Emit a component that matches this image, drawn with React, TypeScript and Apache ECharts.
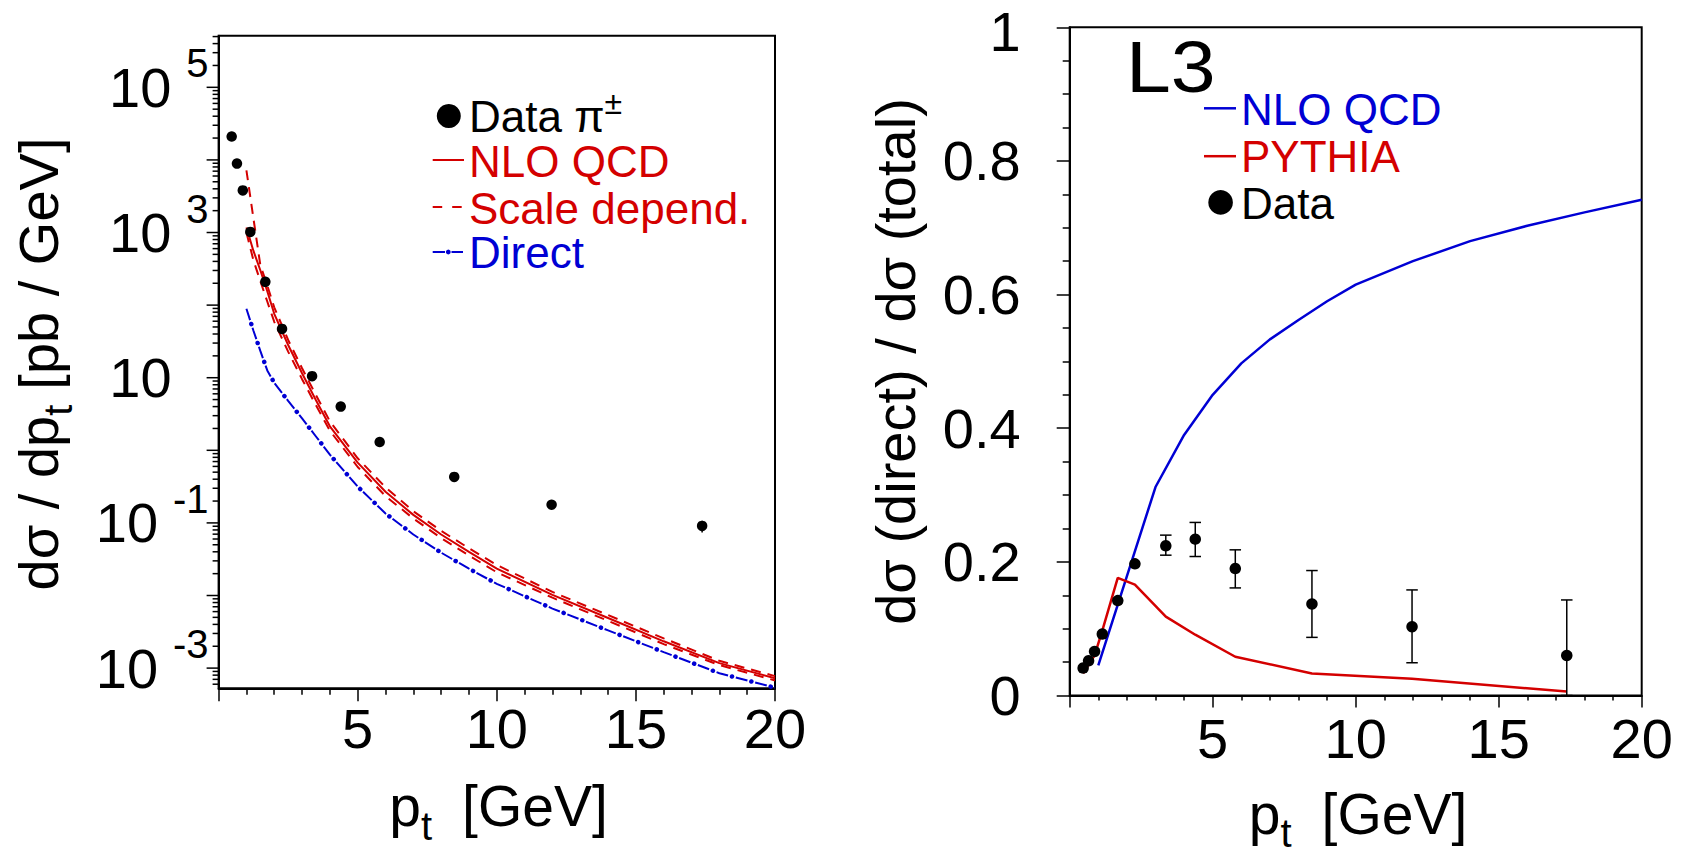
import React, { useEffect, useRef } from 'react';
import * as echarts from 'echarts';

const FONT = '"Liberation Sans", Arial, Helvetica, sans-serif';
const RED = '#d40000';
const BLUE = '#0000d4';
const BLACK = '#000000';

// ---------- data (pt bins, GeV) ----------
const dataPt = [0.47, 0.66, 0.87, 1.14, 1.68, 2.28, 3.36, 4.39, 5.79, 8.47, 11.97, 17.38];

// Left panel: dsigma/dpt [pb/GeV]
const dataXsec = [21000, 8900, 3800, 1020, 209, 47, 10.5, 4.0, 1.3, 0.43, 0.178, 0.091];
const xsecErrPt = [11.97, 17.38];
const xsecErrLow = [0.163, 0.074];
const xsecErrHigh = [0.193, 0.107];

const nloPt = [1.0, 1.25, 1.5, 1.75, 2.0, 2.5, 3.0, 3.5, 4.0, 5.0, 6.0, 7.0, 8.0, 9.0, 10.0, 12.0, 14.0, 16.0, 18.0, 20.0];
const nloCentral = [1175, 562, 302, 155, 75.9, 28.2, 11.5, 4.9, 2.14, 0.676, 0.269, 0.129, 0.0692, 0.0398, 0.0234, 0.0102, 0.0049, 0.00234, 0.00117, 0.000724];
const nloUpper = [7200, 1585, 355, 186, 93.3, 33.1, 13.5, 5.75, 2.51, 0.776, 0.309, 0.145, 0.0776, 0.0447, 0.0263, 0.0112, 0.00537, 0.00257, 0.00126, 0.000776];
const nloLower = [1000, 417, 214, 112, 58.9, 22.9, 9.55, 4.17, 1.86, 0.589, 0.234, 0.115, 0.0617, 0.0355, 0.0209, 0.00933, 0.00447, 0.00214, 0.0011, 0.000676];
const directXsec = [89.1, 44.7, 23.4, 12.6, 8.51, 4.79, 2.75, 1.55, 0.871, 0.316, 0.135, 0.0692, 0.0389, 0.0234, 0.0145, 0.00661, 0.00331, 0.00166, 0.000851, 0.000537];

// Right panel: dsigma(direct)/dsigma(total)
const dataFrac = [0.041, 0.052, 0.066, 0.092, 0.142, 0.197, 0.224, 0.234, 0.190, 0.137, 0.103, 0.060];
const fracErrPt = [3.36, 4.39, 5.79, 8.47, 11.97, 17.38];
const fracErrLow = [0.210, 0.208, 0.161, 0.087, 0.049, 0.0];
const fracErrHigh = [0.240, 0.259, 0.218, 0.187, 0.158, 0.143];
const nloFracPt = [1.0, 3.0, 4.0, 5.0, 6.0, 7.0, 8.0, 9.0, 10.0, 12.0, 14.0, 16.0, 18.0, 20.0];
const nloFrac = [0.045, 0.312, 0.39, 0.45, 0.497, 0.533, 0.562, 0.59, 0.615, 0.65, 0.68, 0.703, 0.723, 0.742];
const pythiaFrac = [0.033, 0.046, 0.06, 0.097, 0.176, 0.166, 0.118, 0.091, 0.058, 0.033, 0.025, 0.006];

// axis settings
const leftYMin = 5.27e-4;
const leftYMax = 5.14e5;
const leftLabelExps = [5, 3, 1, -1, -3];

const pairs = (xs: number[], ys: number[]) => xs.map((x, i) => [x, ys[i]]);

function buildOption(): any {
  const logTicks: number[][] = [];
  for (let e = -4; e <= 5; e++) {
    for (let k = 1; k <= 9; k++) {
      const v = k * Math.pow(10, e);
      if (v >= leftYMin && v <= leftYMax) logTicks.push([0, v, k === 1 ? 12 : 6]);
    }
  }

  const tickStyle = { color: BLACK, width: 1.5 };
  const axisLineStyle = { show: true, lineStyle: { color: BLACK, width: 2 } };
  const labelBase = { color: BLACK, fontSize: 56, fontFamily: FONT, lineHeight: 50 };

  const errRender = (cap: number) => (params: any, api: any) => {
    const x = api.value(0);
    const a = api.coord([x, api.value(1)]);
    const b = api.coord([x, api.value(2)]);
    const children: any[] = [
      { type: 'line', shape: { x1: a[0], y1: a[1], x2: b[0], y2: b[1] }, style: { stroke: BLACK, lineWidth: 1.5 } },
    ];
    if (cap > 0) {
      children.push({ type: 'line', shape: { x1: b[0] - cap, y1: b[1], x2: b[0] + cap, y2: b[1] }, style: { stroke: BLACK, lineWidth: 1.5 } });
      children.push({ type: 'line', shape: { x1: a[0] - cap, y1: a[1], x2: a[0] + cap, y2: a[1] }, style: { stroke: BLACK, lineWidth: 1.5 } });
    }
    return { type: 'group', children };
  };

  const text = (x: number, y: number, t: string, o: any = {}) => ({
    type: 'text',
    x,
    y,
    rotation: o.rotation || 0,
    scaleX: o.scaleX || 1,
    silent: true,
    z: 100,
    style: {
      text: t,
      fill: o.fill || BLACK,
      fontSize: o.fontSize || 44,
      fontFamily: FONT,
      align: o.align || 'left',
      textAlign: o.align || 'left',
      verticalAlign: 'middle',
      textVerticalAlign: 'middle',
      rich: o.rich,
    },
  });

  const seg = (x1: number, y1: number, x2: number, y2: number, stroke: string, extra: any = {}) => ({
    type: 'line',
    silent: true,
    z: 100,
    shape: { x1, y1, x2, y2 },
    style: { stroke, lineWidth: 2, ...extra },
  });

  const xTitleRich = {
    m: { fontSize: 57, lineHeight: 79, fontFamily: FONT, fill: BLACK },
    s: { fontSize: 40, lineHeight: 28, fontFamily: FONT, fill: BLACK, verticalAlign: 'bottom' },
    g: { fontSize: 57, lineHeight: 79, fontFamily: FONT, fill: BLACK, padding: [0, 0, 0, 30] },
  };
  const yTitleRich = {
    m: { fontSize: 56, lineHeight: 79, fontFamily: FONT, fill: BLACK },
    s: { fontSize: 40, lineHeight: 28, fontFamily: FONT, fill: BLACK, verticalAlign: 'bottom' },
    g: { fontSize: 56, lineHeight: 79, fontFamily: FONT, fill: BLACK, padding: [0, 0, 0, 15] },
  };

  return {
    animation: false,
    backgroundColor: '#ffffff',
    grid: [
      { left: 218.6, top: 35.7, width: 556.4, height: 652.6, show: true, borderColor: BLACK, borderWidth: 2, containLabel: false, outerBoundsMode: 'none' },
      { left: 1069.7, top: 27.3, width: 572, height: 668.2, show: true, borderColor: BLACK, borderWidth: 2, containLabel: false, outerBoundsMode: 'none' },
    ],
    xAxis: [
      {
        gridIndex: 0, type: 'value', min: 0, max: 20, interval: 5,
        axisLine: axisLineStyle,
        axisTick: { show: true, length: 13, lineStyle: tickStyle },
        minorTick: { show: true, splitNumber: 5, length: 6.5, lineStyle: tickStyle },
        axisLabel: { ...labelBase, margin: 15.5, showMinLabel: false },
        splitLine: { show: false },
        minorSplitLine: { show: false },
      },
      {
        gridIndex: 1, type: 'value', min: 0, max: 20, interval: 5,
        axisLine: axisLineStyle,
        axisTick: { show: true, length: 12, lineStyle: tickStyle },
        minorTick: { show: true, splitNumber: 5, length: 5, lineStyle: tickStyle },
        axisLabel: { ...labelBase, margin: 18.4, showMinLabel: false },
        splitLine: { show: false },
        minorSplitLine: { show: false },
      },
    ],
    yAxis: [
      {
        gridIndex: 0, type: 'log', logBase: 10, min: leftYMin, max: leftYMax,
        axisLine: axisLineStyle,
        axisTick: { show: false },
        axisLabel: { show: false },
        splitLine: { show: false },
      },
      {
        gridIndex: 1, type: 'value', min: 0, max: 1, interval: 0.2,
        axisLine: axisLineStyle,
        axisTick: { show: true, length: 13, lineStyle: tickStyle },
        minorTick: { show: true, splitNumber: 4, length: 7, lineStyle: tickStyle },
        axisLabel: {
          ...labelBase,
          margin: 49,
          formatter: (v: number) => (v === 1 ? '{t|1}' : String(v)),
          rich: { t: { fontSize: 56, fontFamily: FONT, color: BLACK, lineHeight: 50, padding: [8, 0, 0, 0] } },
        },
        splitLine: { show: false },
        minorSplitLine: { show: false },
      },
    ],
    series: [
      // left log-axis ticks
      {
        type: 'custom', name: 'logTicks', xAxisIndex: 0, yAxisIndex: 0, clip: false, silent: true, z: 5,
        data: logTicks,
        renderItem: (params: any, api: any) => {
          const p = api.coord([api.value(0), api.value(1)]);
          const len = api.value(2);
          return { type: 'line', shape: { x1: p[0] - len, y1: p[1], x2: p[0], y2: p[1] }, style: { stroke: BLACK, lineWidth: 1.5 } };
        },
      },
      // left log-axis labels 10^n (plain "10" for the first power)
      {
        type: 'custom', name: 'logLabels', xAxisIndex: 0, yAxisIndex: 0, clip: false, silent: true, z: 5,
        data: leftLabelExps.map((e) => [0, Math.pow(10, e), e]),
        renderItem: (params: any, api: any) => {
          const p = api.coord([api.value(0), api.value(1)]);
          const e = api.value(2);
          const label = e === 1 ? '{p|10}' : `{b|10}{e|${e}}`;
          return {
            type: 'text',
            x: p[0] - 10,
            y: p[1],
            style: {
              text: label,
              fill: BLACK,
              fontSize: 56,
              fontFamily: FONT,
              align: 'right',
              textAlign: 'right',
              verticalAlign: 'middle',
              textVerticalAlign: 'middle',
              rich: {
                b: { fontSize: 56, lineHeight: 88, fontFamily: FONT, fill: BLACK },
                p: { fontSize: 56, lineHeight: 88, fontFamily: FONT, fill: BLACK, padding: [0, 37, 0, 0] },
                e: { fontSize: 40, lineHeight: 40, fontFamily: FONT, fill: BLACK, verticalAlign: 'top', padding: [0, 0, 0, 15] },
              },
            },
          };
        },
      },
      {
        type: 'line', name: 'Scale depend. up', xAxisIndex: 0, yAxisIndex: 0, showSymbol: false, symbol: 'none',
        data: pairs(nloPt, nloUpper), lineStyle: { color: RED, width: 2, type: [10, 7] }, z: 3,
      },
      {
        type: 'line', name: 'Scale depend. down', xAxisIndex: 0, yAxisIndex: 0, showSymbol: false, symbol: 'none',
        data: pairs(nloPt, nloLower), lineStyle: { color: RED, width: 2, type: [10, 7] }, z: 3,
      },
      {
        type: 'line', name: 'NLO QCD', xAxisIndex: 0, yAxisIndex: 0, showSymbol: false, symbol: 'none',
        data: pairs(nloPt, nloCentral), lineStyle: { color: RED, width: 2 }, z: 3,
      },
      {
        type: 'line', name: 'Direct', xAxisIndex: 0, yAxisIndex: 0, showSymbol: false, symbol: 'none',
        data: pairs(nloPt, directXsec), lineStyle: { color: BLUE, width: 2, type: [12, 8] }, z: 3,
      },
      {
        type: 'line', name: 'Direct dots', xAxisIndex: 0, yAxisIndex: 0, showSymbol: false, symbol: 'none',
        data: pairs(nloPt, directXsec), lineStyle: { color: BLUE, width: 4.5, type: [0.1, 19.9], dashOffset: -15.95, cap: 'round' }, z: 3,
      },
      {
        type: 'custom', name: 'xsecErr', xAxisIndex: 0, yAxisIndex: 0, silent: true, z: 6,
        data: xsecErrPt.map((x, i) => [x, xsecErrLow[i], xsecErrHigh[i]]),
        renderItem: errRender(0),
      },
      {
        type: 'scatter', name: 'Data π±', xAxisIndex: 0, yAxisIndex: 0, symbol: 'circle', symbolSize: 10.5,
        data: pairs(dataPt, dataXsec), itemStyle: { color: BLACK, opacity: 1 }, z: 10,
      },
      // right panel
      {
        type: 'line', name: 'NLO QCD frac', xAxisIndex: 1, yAxisIndex: 1, showSymbol: false, symbol: 'none',
        data: pairs(nloFracPt, nloFrac), lineStyle: { color: BLUE, width: 2.5 }, z: 3,
      },
      {
        type: 'line', name: 'PYTHIA', xAxisIndex: 1, yAxisIndex: 1, showSymbol: false, symbol: 'none',
        data: pairs(dataPt, pythiaFrac), lineStyle: { color: RED, width: 2.5 }, z: 3,
      },
      {
        type: 'custom', name: 'fracErr', xAxisIndex: 1, yAxisIndex: 1, silent: true, z: 6, clip: false,
        data: fracErrPt.map((x, i) => [x, fracErrLow[i], fracErrHigh[i]]),
        renderItem: errRender(5.75),
      },
      {
        type: 'scatter', name: 'Data', xAxisIndex: 1, yAxisIndex: 1, symbol: 'circle', symbolSize: 11.5,
        data: pairs(dataPt, dataFrac), itemStyle: { color: BLACK, opacity: 1 }, z: 10,
      },
    ],
    graphic: [
      // axis titles
      text(38.5, 364, '{m|dσ / dp}{s|t}{g|[pb / GeV]}', { rotation: Math.PI / 2, align: 'center', fontSize: 56, rich: yTitleRich }),
      text(895.5, 361.5, 'dσ (direct) / dσ (total)', { rotation: Math.PI / 2, align: 'center', fontSize: 56 }),
      text(498.5, 806, '{m|p}{s|t}{g|[GeV]}', { align: 'center', fontSize: 57, rich: xTitleRich }),
      text(1358, 813.6, '{m|p}{s|t}{g|[GeV]}', { align: 'center', fontSize: 57, rich: xTitleRich }),
      // left legend
      { type: 'circle', silent: true, z: 100, shape: { cx: 448.8, cy: 116, r: 12 }, style: { fill: BLACK } },
      text(469, 116, '{a|Data π}{s|±}', {
        rich: {
          a: { fontSize: 44, lineHeight: 58, fontFamily: FONT, fill: BLACK },
          s: { fontSize: 32, lineHeight: 30, fontFamily: FONT, fill: BLACK, verticalAlign: 'top' },
        },
      }),
      seg(432.7, 160, 464, 160, RED),
      text(469, 161.5, 'NLO QCD', { fill: RED }),
      seg(432.7, 207, 462, 207, RED, { lineDash: [9.5, 10] }),
      text(469, 208, 'Scale depend.', { fill: RED }),
      seg(432.7, 252, 445, 252, BLUE),
      { type: 'circle', silent: true, z: 100, shape: { cx: 448.3, cy: 252, r: 2.4 }, style: { fill: BLUE } },
      seg(451.5, 252, 463, 252, BLUE),
      text(469, 252.5, 'Direct', { fill: BLUE }),
      // right legend
      text(1126, 67, 'L3', { fontSize: 72, scaleX: 1.12 }),
      seg(1204, 108.3, 1236, 108.3, BLUE, { lineWidth: 2.5 }),
      text(1241, 109.4, 'NLO QCD', { fill: BLUE }),
      seg(1204, 156.2, 1236, 156.2, RED, { lineWidth: 2.5 }),
      text(1241, 156, 'PYTHIA', { fill: RED }),
      { type: 'circle', silent: true, z: 100, shape: { cx: 1220.6, cy: 202.4, r: 12.3 }, style: { fill: BLACK } },
      text(1241, 203.7, 'Data', { fill: BLACK }),
    ],
  };
}

export default function App() {
  const ref = useRef<HTMLDivElement>(null);
  useEffect(() => {
    if (!ref.current) return;
    const chart = echarts.init(ref.current, null, { renderer: 'svg' });
    chart.setOption(buildOption());
    return () => {
      chart.dispose();
    };
  }, []);
  return (
    <div
      ref={ref}
      style={{ position: 'absolute', left: 0, top: 0, width: 1689, height: 854, background: '#ffffff' }}
    />
  );
}
